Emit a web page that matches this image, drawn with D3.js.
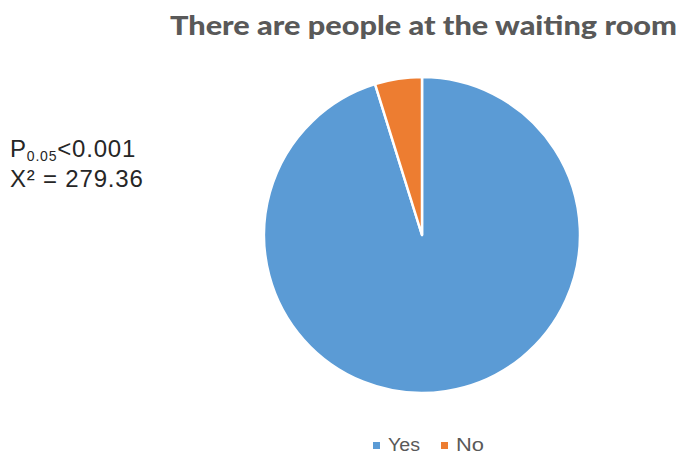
<!DOCTYPE html>
<html>
<head>
<meta charset="utf-8">
<script src="https://cdn.jsdelivr.net/npm/d3@7/dist/d3.min.js"></script>
<style>
  html, body { margin: 0; padding: 0; background: #fff; }
  svg { display: block; }
</style>
</head>
<body>
<svg id="chart" width="680" height="456"></svg>
<script>
// Answer shares (%)
const categories = ["Yes", "No"];
const values = [95.2, 4.8];
const colors = ["#5B9BD5", "#ED7D31"];
const titleText = "There are people at the waiting room";

const svg = d3.select("#chart");
const cx = 422, cy = 235, radius = 158;

// Title
svg.append("text")
  .attr("x", 170).attr("y", 35)
  .attr("font-family", "Lato, sans-serif")
  .attr("font-weight", 900)
  .attr("font-size", 27)
  .attr("fill", "#595959")
  .attr("textLength", 507)
  .attr("lengthAdjust", "spacingAndGlyphs")
  .text(titleText);

// Pie: starts at 12 o'clock, clockwise, in data order
const pie = d3.pie().sort(null).value(d => d.value);
const arc = d3.arc().innerRadius(0).outerRadius(radius);
const data = categories.map((c, i) => ({ name: c, value: values[i], color: colors[i] }));

const g = svg.append("g").attr("transform", `translate(${cx},${cy})`);
g.selectAll("path")
  .data(pie(data))
  .join("path")
  .attr("d", arc)
  .attr("fill", d => d.data.color)
  .attr("stroke", "#fff")
  .attr("stroke-width", 2.5)
  .attr("stroke-linejoin", "round");

// Statistics annotation
const stat = svg.append("g")
  .attr("font-family", "Liberation Sans, Arial, sans-serif")
  .attr("font-size", 24)
  .attr("letter-spacing", 0.8)
  .attr("fill", "#262626");
const t1 = stat.append("text").attr("x", 10).attr("y", 157);
t1.append("tspan").text("P");
t1.append("tspan").attr("font-size", 14).attr("dy", 4).text("0.05");
t1.append("tspan").attr("dy", -4).text("<0.001");
stat.append("text").attr("x", 10).attr("y", 187).text("X² = 279.36");

// Legend
const legend = svg.append("g")
  .attr("font-family", "Liberation Sans, Arial, sans-serif")
  .attr("font-size", 18)
  .attr("fill", "#595959");
const legendX = [373, 441];
const legendW = [32, 28];
data.forEach((d, i) => {
  legend.append("rect")
    .attr("x", legendX[i]).attr("y", 442)
    .attr("width", 7).attr("height", 7)
    .attr("fill", d.color);
  legend.append("text")
    .attr("x", legendX[i] + 15).attr("y", 451)
    .attr("textLength", legendW[i])
    .attr("lengthAdjust", "spacingAndGlyphs")
    .text(d.name);
});
</script>
</body>
</html>
